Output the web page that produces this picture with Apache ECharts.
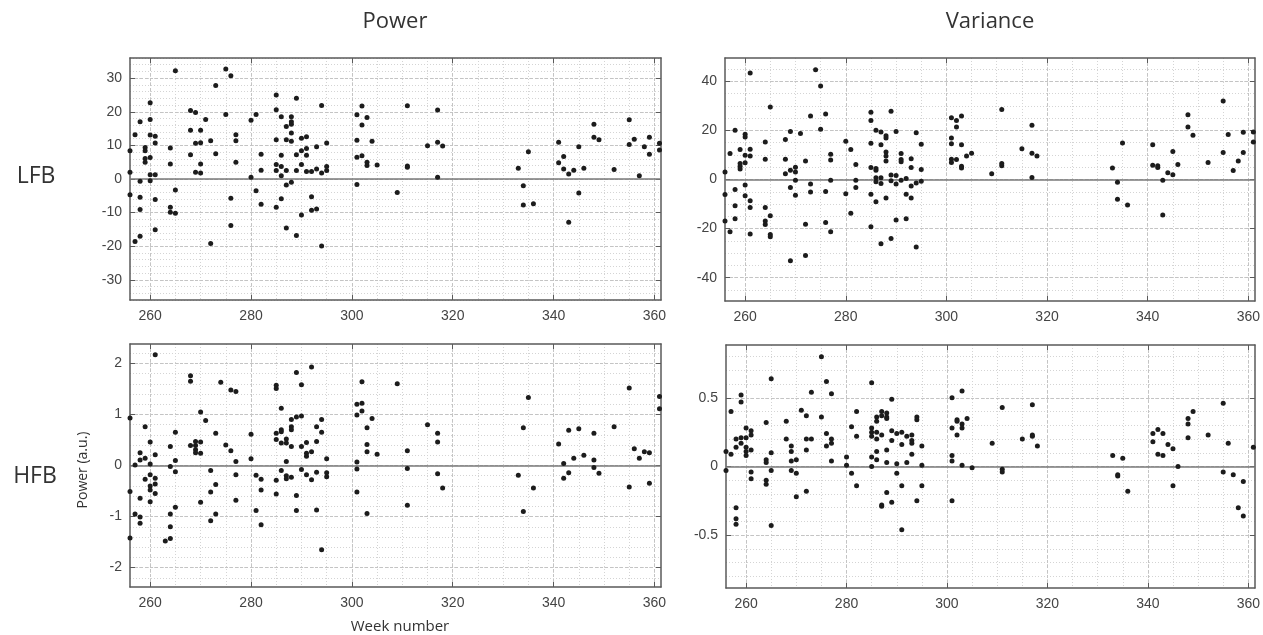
<!DOCTYPE html>
<html><head><meta charset="utf-8">
<script src="https://cdn.jsdelivr.net/npm/echarts@6/dist/echarts.min.js"></script>
<style>html,body{margin:0;padding:0;background:#fff}#c{width:1263px;height:635px}</style>
</head><body><div id="c"></div><script>
// ---- data: [week, value] ----
const lfbPower = [
[256,8.4],[256,2.0],[256,-4.7],[257,13.2],[257,-18.6],
[258,17.0],[258,-0.7],[258,-5.4],[258,-9.1],[258,-17.0],
[259,9.4],[259,8.4],[259,6.1],[259,5.0],
[260,22.7],[260,17.7],[260,13.1],[260,6.4],[260,1.3],[260,-0.5],
[261,12.7],[261,10.7],[261,1.3],[261,-6.1],[261,-15.1],
[264,9.2],[264,4.5],[264,-8.4],[264,-9.9],[265,32.2],[265,-3.3],[265,-10.2],
[268,20.4],[268,14.5],[268,7.2],[269,19.8],[269,10.6],[269,2.0],
[270,14.5],[270,10.8],[270,4.5],[270,1.8],[271,17.7],[272,11.4],[272,-19.2],
[273,27.8],[273,7.5],[275,32.7],[275,19.2],[276,30.7],[276,-5.7],[276,-13.8],
[277,13.2],[277,11.4],[277,5.0],[280,17.5],[280,0.5],[281,19.2],[281,-3.5],
[282,7.4],[282,2.6],[282,-7.5],
[285,25.0],[285,20.6],[285,11.7],[285,4.3],[285,2.5],[285,-8.4],
[286,18.5],[286,7.1],[286,3.7],[286,1.0],[286,-5.9],
[287,15.6],[287,11.7],[287,2.5],[287,-1.8],[287,-14.6],
[288,18.5],[288,17.0],[288,16.3],[288,13.7],[288,11.2],[288,-1.0],
[289,24.0],[289,7.2],[289,2.5],[289,-16.8],[290,12.1],[290,8.4],[290,4.3],[290,-10.7],
[291,12.6],[291,9.1],[291,7.1],[291,2.2],[292,2.2],[292,-5.3],[292,-9.3],
[293,9.6],[293,3.0],[293,-8.9],[294,21.9],[294,1.8],[294,-19.9],[295,10.7],[295,3.7],[295,2.5],
[301,19.1],[301,11.5],[301,6.5],[301,-1.6],[302,21.7],[302,16.1],[302,6.9],
[303,18.3],[303,5.0],[303,4.0],[304,11.2],[305,4.2],[309,-4.0],
[311,21.8],[311,3.9],[311,3.5],[315,9.9],[317,20.5],[317,10.9],[317,0.5],[318,9.8],
[333,3.2],[334,-2.0],[334,-7.7],[335,8.1],[336,-7.4],[341,10.9],[341,4.8],
[342,6.7],[342,3.0],[343,1.5],[343,-12.9],[344,2.6],[345,9.6],[345,-4.2],[346,3.2],
[348,16.3],[348,12.4],[349,11.7],[352,2.8],[355,17.6],[355,10.3],[356,11.8],
[357,1.0],[358,9.6],[359,12.4],[359,7.4],[361,10.6],[361,8.6]
];
const lfbVariance = [
[256,3.1],[256,-6.1],[256,-16.9],[257,10.6],[257,-21.3],
[258,20.1],[258,-4.1],[258,-10.7],[258,-16.0],[259,12.2],[259,6.5],[259,5.4],[259,4.3],
[260,18.4],[260,17.3],[260,9.9],[260,6.8],[260,-2.2],[260,-6.6],
[261,43.4],[261,12.3],[261,9.6],[261,-8.7],[261,-11.4],[261,-22.2],
[264,15.3],[264,8.3],[264,-11.4],[264,-16.9],[264,-18.3],
[265,29.5],[265,-14.8],[265,-22.4],[265,-23.3],[268,16.3],[268,8.3],[268,2.3],
[269,19.6],[269,3.8],[269,-3.3],[269,-33.1],[270,5.0],[270,3.1],[270,-0.3],[270,-6.4],
[271,18.7],[272,7.5],[272,-18.2],[272,-31.0],[273,25.9],[273,-1.8],[273,-5.1],
[274,44.7],[275,38.1],[275,20.5],[276,26.7],[276,-4.9],[276,-17.5],
[277,10.3],[277,7.9],[277,-0.3],[277,-21.3],[280,15.6],[280,-5.8],[281,12.2],[281,-13.8],
[282,6.1],[282,-0.3],[282,-3.3],
[285,27.4],[285,24.0],[285,14.8],[285,4.9],[285,-6.0],[285,-19.2],
[286,20.1],[286,4.5],[286,3.8],[286,0.7],[286,-0.9],[286,-9.1],
[287,19.4],[287,14.2],[287,0.7],[287,-1.6],[287,-26.2],
[288,17.8],[288,16.9],[288,11.2],[288,9.6],[288,7.5],[288,-7.5],
[289,27.8],[289,1.8],[289,-0.5],[289,-24.0],[290,19.6],[290,1.6],[290,-1.8],[290,-16.5],
[291,10.6],[291,8.1],[291,7.2],[291,-0.3],[292,0.4],[292,-6.0],[292,-16.0],
[293,8.5],[293,4.9],[293,-2.6],[293,-7.5],[294,19.0],[294,-1.4],[294,-27.5],
[295,14.4],[295,4.1],[295,-0.7],
[301,25.2],[301,16.9],[301,14.6],[301,8.3],[301,6.9],[302,24.0],[302,21.4],[302,8.1],
[303,25.9],[303,14.2],[303,5.4],[303,4.7],[304,9.6],[305,10.7],[309,2.3],
[311,28.5],[311,6.5],[311,5.6],[315,12.5],[317,22.1],[317,10.7],[317,0.8],[318,9.6],
[333,4.7],[334,-1.1],[334,-8.0],[335,14.9],[336,-10.4],[341,14.2],[341,5.8],
[342,5.6],[342,4.9],[343,-0.3],[343,-14.5],[344,2.8],[345,11.4],[345,1.9],[346,6.1],
[348,26.4],[348,21.4],[349,18.0],[352,6.9],[355,32.0],[355,11.0],[356,18.3],
[357,3.7],[358,7.5],[359,19.2],[359,11.0],[361,19.4],[361,15.3]
];
const hfbPower = [
[256,0.93],[256,-0.51],[256,-1.42],[257,0.01],[257,-0.95],
[258,0.25],[258,0.11],[258,-0.64],[258,-1.01],[258,-1.13],[259,0.76],[259,0.14],[259,-0.27],
[260,0.46],[260,0.03],[260,-0.18],[260,-0.40],[260,-0.48],[260,-0.71],
[261,2.17],[261,0.21],[261,-0.25],[261,-0.36],[261,-0.55],[263,-1.48],
[264,0.37],[264,-0.02],[264,-0.95],[264,-1.20],[264,-1.43],
[265,0.65],[265,0.10],[265,-0.12],[265,-0.82],[268,1.76],[268,1.65],[268,0.39],
[269,0.47],[269,0.39],[269,0.31],[269,0.25],[270,1.05],[270,0.46],[270,0.24],[270,-0.72],
[271,0.88],[272,-0.10],[272,-0.52],[272,-1.08],[273,0.63],[273,-0.37],[273,-0.95],
[274,1.63],[275,0.40],[276,1.48],[276,0.29],[277,1.45],[277,0.08],[277,-0.18],[277,-0.68],
[280,0.61],[280,0.13],[281,-0.19],[281,-0.88],[282,-0.27],[282,-0.48],[282,-1.16],
[285,1.57],[285,1.51],[285,0.63],[285,0.51],[285,-0.29],[285,-0.56],
[286,1.12],[286,0.70],[286,0.66],[286,0.44],[286,-0.10],
[287,0.52],[287,0.44],[287,0.08],[287,-0.20],[287,-0.26],
[288,0.90],[288,0.76],[288,0.70],[288,0.37],[288,-0.23],
[289,1.82],[289,0.95],[289,-0.59],[289,-0.88],[290,1.58],[290,0.97],[290,0.37],[290,-0.08],
[291,0.45],[291,0.24],[291,0.18],[291,-0.18],[292,1.93],[292,0.27],[292,-0.28],
[293,0.76],[293,0.47],[293,-0.13],[293,-0.87],[294,0.90],[294,0.65],[294,-1.65],
[295,0.13],[295,-0.14],[295,-0.22],
[301,1.20],[301,0.99],[301,0.07],[301,-0.07],[301,-0.52],[302,1.64],[302,1.22],[302,1.07],
[303,0.74],[303,0.41],[303,0.27],[303,-0.94],[304,0.92],[305,0.22],[309,1.60],
[311,0.29],[311,-0.06],[311,-0.78],[315,0.80],[317,0.63],[317,0.46],[317,-0.16],[318,-0.44],
[333,-0.19],[334,0.74],[334,-0.90],[335,1.33],[336,-0.44],[341,0.42],[342,0.04],[342,-0.25],
[343,0.69],[343,-0.14],[344,0.14],[345,0.72],[346,0.20],[348,0.63],[348,0.11],[348,-0.04],
[349,-0.15],[352,0.76],[355,1.52],[355,-0.42],[356,0.33],
[357,0.14],[358,0.27],[359,0.25],[359,-0.35],[361,1.35],[361,1.11]
];
const hfbVariance = [
[256,0.11],[256,-0.03],[257,0.40],[257,0.09],
[258,0.20],[258,0.14],[258,-0.30],[258,-0.38],[258,-0.42],[259,0.52],[259,0.47],[259,0.21],[259,0.17],
[260,0.28],[260,0.21],[260,0.14],[260,0.11],[260,0.08],[261,0.26],[261,0.23],[261,0.12],[261,-0.04],[261,-0.09],
[264,0.32],[264,0.05],[264,0.03],[264,-0.10],[264,-0.13],[265,0.64],[265,0.10],[265,-0.03],[265,-0.43],
[268,0.33],[268,0.20],[269,0.15],[269,0.11],[269,0.04],[269,-0.03],[270,0.05],[270,-0.05],[270,-0.22],
[271,0.41],[272,0.37],[272,0.20],[272,0.12],[272,-0.18],[273,0.54],[273,0.20],[275,0.80],[275,0.36],
[276,0.62],[276,0.24],[276,0.15],[277,0.53],[277,0.20],[277,0.17],[277,0.04],
[280,0.07],[280,0.01],[281,0.29],[281,-0.05],[282,0.40],[282,0.22],[282,-0.14],
[285,0.61],[285,0.28],[285,0.25],[285,0.22],[285,0.07],[285,0.00],
[286,0.36],[286,0.33],[286,0.25],[286,0.20],[286,0.11],[286,0.05],
[287,0.40],[287,0.37],[287,0.23],[287,-0.28],[287,-0.29],
[288,0.39],[288,0.36],[288,0.35],[288,0.12],[288,0.03],[288,-0.19],
[289,0.49],[289,0.26],[289,0.19],[289,-0.26],[290,0.24],[290,0.02],[290,-0.05],
[291,0.25],[291,0.16],[291,-0.14],[291,-0.46],[292,0.22],[292,0.03],
[293,0.23],[293,0.19],[293,0.17],[293,0.09],[294,0.36],[294,0.34],[294,-0.25],[295,0.15],[295,0.01],[295,-0.14],
[301,0.50],[301,0.28],[301,0.08],[301,0.04],[301,-0.25],[302,0.34],[302,0.33],[302,0.23],
[303,0.55],[303,0.31],[303,0.28],[303,0.01],[304,0.35],[305,-0.01],[309,0.17],
[311,0.43],[311,-0.02],[311,-0.04],[315,0.20],[317,0.45],[317,0.23],[317,0.22],[318,0.15],
[333,0.08],[334,-0.06],[334,-0.07],[335,0.06],[336,-0.18],[341,0.24],[341,0.18],
[342,0.27],[342,0.09],[343,0.24],[343,0.08],[344,0.16],[345,0.13],[345,-0.14],[346,0.00],
[348,0.35],[348,0.31],[348,0.21],[349,0.40],[352,0.23],[355,0.46],[355,-0.04],[356,0.17],
[357,-0.06],[358,-0.30],[359,-0.11],[359,-0.36],[361,0.14]
];
// ---- ticks ----
const weekTicks = [260, 280, 300, 320, 340, 360];
const lfbPowerTicks = [-30, -20, -10, 0, 10, 20, 30];
const lfbVarTicks = [-40, -20, 0, 20, 40];
const hfbPowerTicks = [-2, -1, 0, 1, 2];
const hfbVarTicks = [-0.5, 0, 0.5];
const colTitles = ['Power', 'Variance'];
const rowTitles = ['LFB', 'HFB'];

function steps(a, b, s) { const o = []; for (let v = a; v <= b + 1e-9; v += s) o.push(+v.toFixed(4)); return o; }

const frame = '#5a5a5a';
const tickFont = 'Liberation Sans, Arial, sans-serif';
const panels = [
  {grid:{left:130, top:58, width:531, height:242}, data:lfbPower, y:[-36,36], yt:lfbPowerTicks, ym:steps(-36,36,2)},
  {grid:{left:725, top:58, width:531, height:243}, data:lfbVariance, y:[-49.5,49.5], yt:lfbVarTicks, ym:steps(-45,45,5)},
  {grid:{left:130, top:344, width:531, height:243}, data:hfbPower, y:[-2.38,2.38], yt:hfbPowerTicks, ym:steps(-2.2,2.2,0.2)},
  {grid:{left:726, top:345, width:530, height:243}, data:hfbVariance, y:[-0.885,0.885], yt:hfbVarTicks, ym:steps(-0.8,0.8,0.1)}
];
const xRange = [256, 361.3];
const xMinor = steps(260, 360, 5);

const grids = [], xAxes = [], yAxes = [], series = [];
panels.forEach((p, g) => {
  grids.push(Object.assign({containLabel:false}, p.grid));
  const lineS = {color: frame, width: 1.5};
  // x: main bottom
  xAxes.push({type:'value', gridIndex:g, position:'bottom', min:xRange[0], max:xRange[1],
    axisLine:{show:true, onZero:false, lineStyle:lineS},
    axisTick:{show:true, inside:true, length:5, customValues:weekTicks, lineStyle:{color:frame, width:1}},
    axisLabel:{show:true, customValues:weekTicks, color:'#444', fontSize:14, margin:9, fontFamily:tickFont},
    splitLine:{show:true, lineStyle:{color:'#c4c4c4', width:1, type:[3,2]}}, z:4});
  // x: minor grid
  xAxes.push({type:'value', gridIndex:g, position:'bottom', min:xRange[0], max:xRange[1],
    axisLine:{show:false, onZero:false}, axisTick:{show:false, customValues:xMinor},
    axisLabel:{show:false, customValues:xMinor},
    splitLine:{show:true, lineStyle:{color:'#d4d4d4', width:1, type:[1,2]}}});
  // x: top frame
  xAxes.push({type:'value', gridIndex:g, position:'top', min:xRange[0], max:xRange[1],
    axisLine:{show:true, onZero:false, lineStyle:lineS},
    axisTick:{show:true, inside:true, length:5, customValues:weekTicks, lineStyle:{color:frame, width:1}},
    axisLabel:{show:false}, splitLine:{show:false}, z:4});
  // y: main left
  yAxes.push({type:'value', gridIndex:g, position:'left', min:p.y[0], max:p.y[1],
    axisLine:{show:true, onZero:false, lineStyle:lineS},
    axisTick:{show:true, inside:true, length:5, customValues:p.yt, lineStyle:{color:frame, width:1}},
    axisLabel:{show:true, customValues:p.yt, color:'#444', fontSize:14, margin:8, fontFamily:tickFont},
    splitLine:{show:true, lineStyle:{color:'#c4c4c4', width:1, type:[3,2]}}, z:4});
  // y: minor grid
  yAxes.push({type:'value', gridIndex:g, position:'left', min:p.y[0], max:p.y[1],
    axisLine:{show:false, onZero:false}, axisTick:{show:false, customValues:p.ym},
    axisLabel:{show:false, customValues:p.ym},
    splitLine:{show:true, lineStyle:{color:'#d4d4d4', width:1, type:[1,2]}}});
  // y: right frame
  yAxes.push({type:'value', gridIndex:g, position:'right', min:p.y[0], max:p.y[1],
    axisLine:{show:true, onZero:false, lineStyle:lineS},
    axisTick:{show:true, inside:true, length:5, customValues:p.yt, lineStyle:{color:frame, width:1}},
    axisLabel:{show:false}, splitLine:{show:false}, z:4});
  series.push({type:'scatter', xAxisIndex:g*3, yAxisIndex:g*3, data:p.data,
    symbol:'circle', symbolSize:5, itemStyle:{color:'#1c1c1c', opacity:1}, z:5,
    markLine:{silent:true, symbol:'none', label:{show:false}, animation:false,
      lineStyle:{color:'#7a7a7a', width:1.6, type:'solid'}, data:[{yAxis:0}]}});
});

const labelFont = '"Open Sans", "Noto Sans", sans-serif';
const graphic = [
  {type:'text', x:395, y:22, style:{text:colTitles[0], textAlign:'center', textVerticalAlign:'middle', fontSize:22, fontFamily:labelFont, fill:'#333'}},
  {type:'text', x:990, y:22, style:{text:colTitles[1], textAlign:'center', textVerticalAlign:'middle', fontSize:22, fontFamily:labelFont, fill:'#333'}},
  {type:'text', x:36, y:176, style:{text:rowTitles[0], textAlign:'center', textVerticalAlign:'middle', fontSize:23, fontFamily:labelFont, fill:'#333'}},
  {type:'text', x:35, y:476, style:{text:rowTitles[1], textAlign:'center', textVerticalAlign:'middle', fontSize:23, fontFamily:labelFont, fill:'#333'}},
  {type:'text', x:83, y:470, rotation:Math.PI/2, style:{text:'Power (a.u.)', textAlign:'center', textVerticalAlign:'middle', fontSize:14, fontFamily:labelFont, fill:'#333'}},
  {type:'text', x:400, y:627, style:{text:'Week number', textAlign:'center', textVerticalAlign:'middle', fontSize:15, fontFamily:labelFont, fill:'#333'}}
];

const chart = echarts.init(document.getElementById('c'), null, {renderer:'canvas'});
chart.setOption({animation:false, backgroundColor:'#fff', grid:grids, xAxis:xAxes, yAxis:yAxes, series:series, graphic:graphic});
</script></body></html>
